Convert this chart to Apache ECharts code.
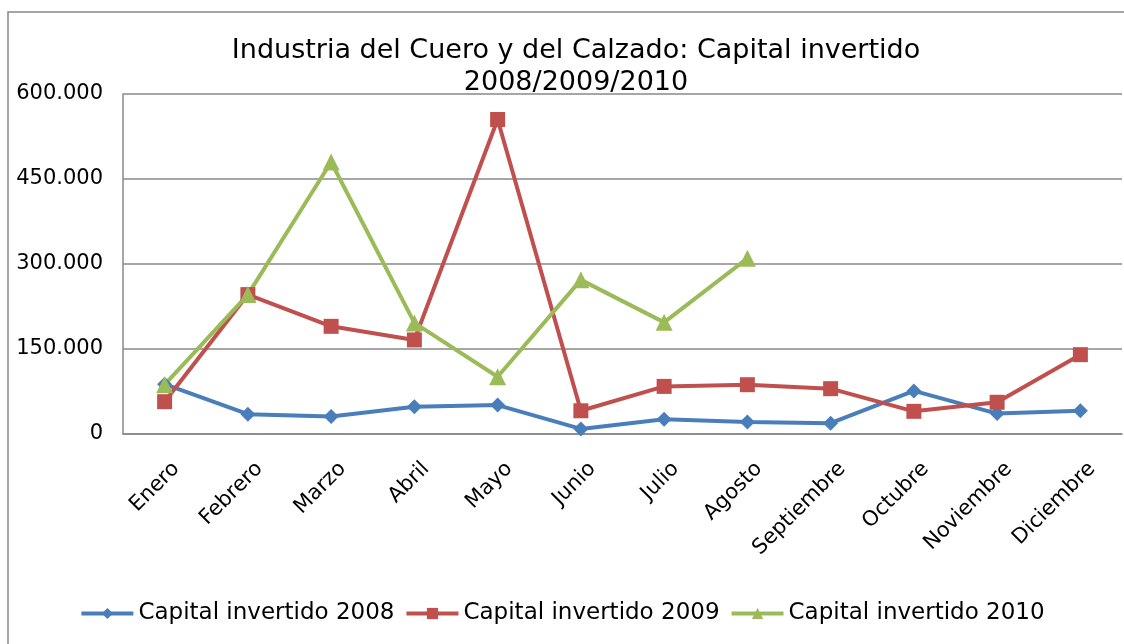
<!DOCTYPE html>
<html>
<head>
<meta charset="utf-8">
<script src="https://cdn.jsdelivr.net/npm/echarts@6/dist/echarts.min.js"></script>
<style>
  html, body { margin: 0; padding: 0; background: #fff; }
  #chart { width: 1124px; height: 644px; }
</style>
</head>
<body>
<div id="chart"></div>
<script>
var meses = ['Enero', 'Febrero', 'Marzo', 'Abril', 'Mayo', 'Junio', 'Julio', 'Agosto', 'Septiembre', 'Octubre', 'Noviembre', 'Diciembre'];
var capital2008 = [88000, 35000, 31000, 48000, 51000, 9000, 26000, 21000, 19000, 76000, 36000, 41000];
var capital2009 = [57000, 246000, 190000, 166000, 555000, 41000, 84000, 87000, 80000, 40000, 56000, 140000];
var capital2010 = [87000, 246000, 480000, 196000, 101000, 272000, 197000, 310000];

var fuente = 'DejaVu Sans';

function miles(v) {
  return String(v).replace(/\B(?=(\d{3})+(?!\d))/g, '.');
}

var myChart = echarts.init(document.getElementById('chart'));

function serie(nombre, datos, color, simbolo, tam) {
  return {
    name: nombre,
    type: 'line',
    data: datos,
    symbol: simbolo,
    symbolSize: tam,
    showAllSymbol: true,
    lineStyle: { width: 4, color: color },
    itemStyle: { color: color },
    emphasis: { disabled: true }
  };
}

var option = {
  animation: false,
  title: {
    text: 'Industria del Cuero y del Calzado: Capital invertido\n2008/2009/2010',
    left: 571,
    textAlign: 'center',
    top: 30,
    textStyle: {
      fontFamily: fuente,
      fontSize: 27,
      fontWeight: 'normal',
      color: '#000',
      lineHeight: 32
    }
  },
  graphic: [{
    type: 'polyline',
    shape: { points: [[8, 644], [8, 12], [1124, 12]] },
    style: { stroke: '#888', lineWidth: 1.5, fill: null },
    silent: true
  }],
  legend: {
    bottom: 14,
    left: 'center',
    itemWidth: 52,
    itemHeight: 14,
    itemGap: 10,
    lineStyle: { width: 4 },
    textStyle: { fontFamily: fuente, fontSize: 23, color: '#000' },
    data: ['Capital invertido 2008', 'Capital invertido 2009', 'Capital invertido 2010']
  },
  grid: {
    left: 123,
    right: 2,
    top: 94,
    bottom: 210,
    containLabel: false
  },
  xAxis: {
    type: 'category',
    data: meses,
    boundaryGap: true,
    axisLine: { lineStyle: { color: '#888', width: 1.5 } },
    axisTick: { show: false },
    axisLabel: {
      rotate: 45,
      interval: 0,
      margin: 20,
      verticalAlign: 'top',
      padding: [6, 0, 0, 0],
      fontFamily: fuente,
      fontSize: 21,
      color: '#000'
    }
  },
  yAxis: {
    type: 'value',
    min: 0,
    max: 600000,
    interval: 150000,
    axisLine: { show: true, lineStyle: { color: '#888', width: 1.5 } },
    axisTick: { show: false },
    splitLine: { lineStyle: { color: '#888', width: 1.5 } },
    axisLabel: {
      formatter: miles,
      margin: 20,
      fontFamily: fuente,
      fontSize: 21,
      color: '#000'
    }
  },
  series: [
    serie('Capital invertido 2008', capital2008, '#4a7ebb', 'diamond', 15),
    serie('Capital invertido 2009', capital2009, '#c0504d', 'rect', 15),
    serie('Capital invertido 2010', capital2010, '#9bbb59', 'triangle', 17)
  ]
};

myChart.setOption(option);
window.addEventListener('resize', function () {
  myChart.resize();
});
</script>
</body>
</html>
